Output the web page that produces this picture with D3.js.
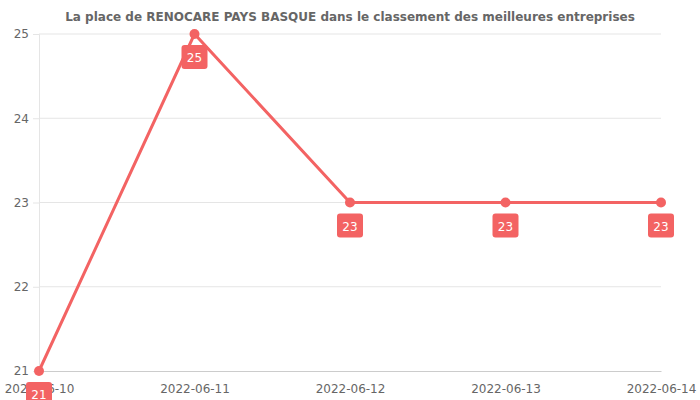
<!DOCTYPE html>
<html>
<head>
<meta charset="utf-8">
<script src="https://cdn.jsdelivr.net/npm/d3@7"></script>
<style>
  body { margin: 0; background: #fff; }
  svg, svg text { font-family: "DejaVu Sans", sans-serif; }
  .axis text { fill: #666; font-size: 12px; }
  .grid line { stroke: #e5e5e5; }
</style>
</head>
<body>
<svg id="chart"></svg>
<script>
const dates = ['2022-06-10', '2022-06-11', '2022-06-12', '2022-06-13', '2022-06-14'];
const ranks = [21, 25, 23, 23, 23];
const yTicks = [21, 22, 23, 24, 25];
const title = 'La place de RENOCARE PAYS BASQUE dans le classement des meilleures entreprises';

const width = 700, height = 400;
const margin = {top: 34, right: 39, bottom: 29, left: 39};
const color = '#f36363';

const svg = d3.select('#chart').attr('width', width).attr('height', height);
const chart = svg.append('g').attr('transform', `translate(${margin.left},${margin.top})`);
const w = width - margin.left - margin.right;
const h = height - margin.top - margin.bottom;

const x = d3.scalePoint().domain(dates).range([0, w]);
const y = d3.scaleLinear().domain([21, 25]).range([h, 0]);

svg.append('text')
    .attr('x', width / 2)
    .attr('y', 21)
    .attr('text-anchor', 'middle')
    .style('font-size', '12px')
    .style('font-weight', 'bold')
    .style('fill', '#666')
    .text(title);

// horizontal grid
chart.append('g').attr('class', 'grid')
  .selectAll('line')
  .data(yTicks.slice(1))
  .join('line')
    .attr('x1', 0).attr('x2', w)
    .attr('y1', d => y(d)).attr('y2', d => y(d));

const yAxis = chart.append('g').attr('class', 'axis')
    .call(d3.axisLeft(y).tickValues(yTicks).tickFormat(d3.format('d')).tickSize(6).tickPadding(4));
yAxis.attr('font-family', null);
yAxis.select('.domain').attr('stroke', '#e5e5e5');
yAxis.selectAll('.tick line').attr('stroke', '#e5e5e5');

const xAxis = chart.append('g').attr('class', 'axis')
    .attr('transform', `translate(0,${h})`)
    .call(d3.axisBottom(x).tickSize(0).tickPadding(13));
xAxis.attr('font-family', null);
xAxis.select('.domain').attr('stroke', '#ccc');

const line = d3.line().x((d, i) => x(dates[i])).y(d => y(d));
chart.append('path')
    .datum(ranks)
    .attr('fill', 'none')
    .attr('stroke', color)
    .attr('stroke-width', 3)
    .attr('d', line);

chart.selectAll('.dot')
  .data(ranks)
  .join('circle')
    .attr('cx', (d, i) => x(dates[i]))
    .attr('cy', d => y(d))
    .attr('r', 5)
    .attr('fill', color);

const labels = chart.selectAll('.lbl')
  .data(ranks)
  .join('g')
    .attr('transform', (d, i) => `translate(${x(dates[i])},${y(d)})`);
labels.append('rect')
    .attr('x', -13).attr('y', 11)
    .attr('width', 26).attr('height', 24)
    .attr('rx', 3)
    .attr('fill', color);
labels.append('text')
    .attr('y', 28)
    .attr('text-anchor', 'middle')
    .style('font-size', '12px')
    .style('fill', '#fff')
    .text(d => d);
</script>
</body>
</html>
